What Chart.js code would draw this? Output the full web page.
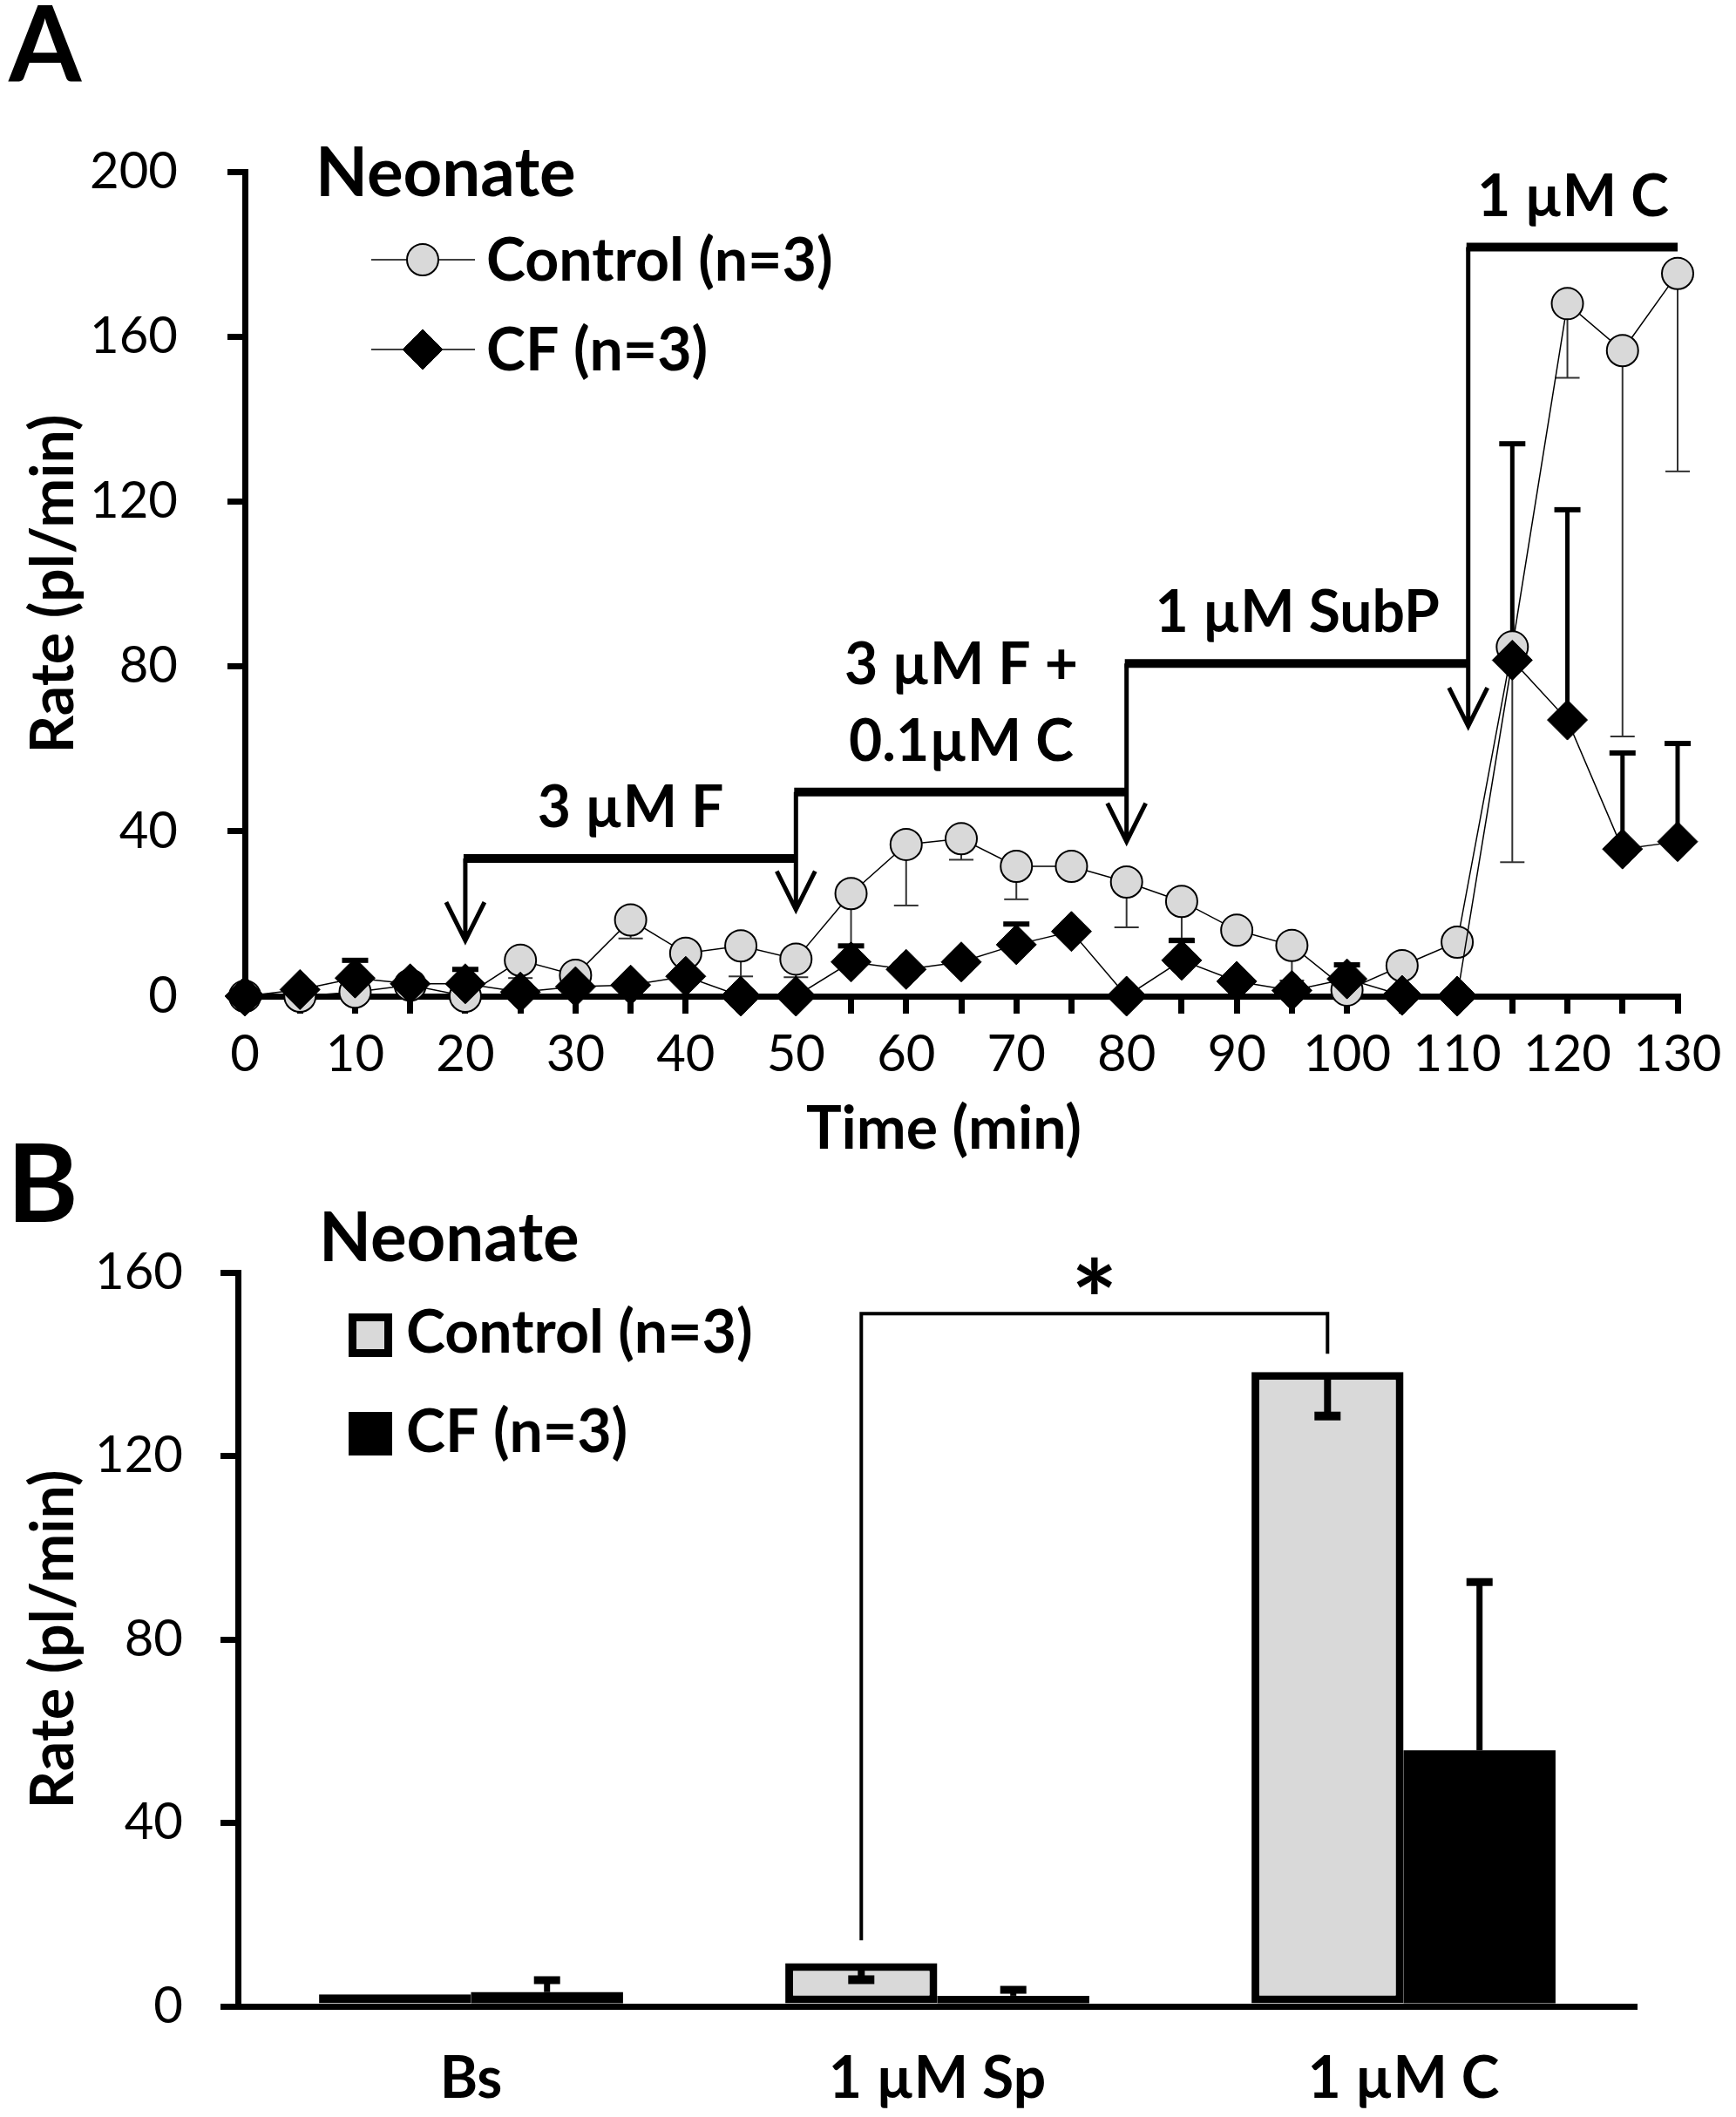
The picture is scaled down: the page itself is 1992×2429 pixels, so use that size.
<!DOCTYPE html>
<html lang="en">
<head>
<meta charset="UTF-8" />
<title>Neonate secretion rate</title>
<script src="https://cdn.jsdelivr.net/npm/chart.js"></script>
<style>
  html, body { margin: 0; padding: 0; background: #fff; }
  #wrap { position: relative; width: 1992px; height: 2429px; }
  #panelA { position: absolute; left: 0; top: 0; }
  #panelB { position: absolute; left: 0; top: 1300px; }
</style>
</head>
<body>
<div id="wrap">
  <canvas id="panelA" width="1992" height="1360"></canvas>
  <canvas id="panelB" width="1992" height="1129"></canvas>
</div>
<script>
// ---- Panel A: time course ----
const timeMin = [0, 5, 10, 15, 20, 25, 30, 35, 40, 45, 50, 55, 60, 65, 70, 75, 80, 85, 90, 95, 100, 105, 110, 115, 120, 125, 130];
const controlMean = [0, 0, 1, 2.7, 0, 8.7, 5.1, 18.5, 10.4, 12.2, 9.0, 24.9, 36.8, 38.2, 31.5, 31.5, 27.7, 23.0, 16.0, 12.3, 1.5, 7.4, 13.1, 84.7, 168, 156.6, 175.3];
const controlErr = [0, 0, 0, 0, 0, 4.3, 0, 4.5, 0, 7.4, 4.4, 12.7, 14.8, 5.1, 8, 0, 11, 9, 0, 8.5, 0, 0, 0, 52.2, 18, 93.6, 48];
const cfMean = [0, 1.6, 4.4, 3, 3, 1, 2.3, 2.7, 4.8, 0, 0, 8.3, 6.5, 8.3, 12.5, 15.7, 0, 8.7, 3.6, 1.4, 4.2, 0.2, 0, 81.5, 67, 35.7, 37.5];
const cfErr = [0, 0, 4.3, 1, 3.5, 0, 0, 1, 0, 0, 0, 3.9, 0, 0, 5, 0, 0, 4.8, 0, 0, 3.4, 0, 0, 52.5, 51, 23.3, 23.8];

// treatment periods (min) and the bracket level they are drawn at
const treatStart = [20, 50, 80, 111];
const treatEnd = [50, 80, 111, 130];
const treatLevel = [33.4, 49.5, 80.7, 181.7];
const arrowTip = [13.5, 21, 37.5, 65.5];
const treatLabel = [['3 µM F'], ['3 µM F +', '0.1µM C'], ['1 µM SubP'], ['1 µM C']];

// ---- Panel B: group means ----
const groups = ['Bs', '1 µM Sp', '1 µM C'];
const bControl = [2.6, 9.4, 138.3];
const bControlErr = [0, 3.6, 9.6];
const bCF = [3.1, 2.3, 55.8];
const bCFErr = [2.6, 1.3, 36.7];
const sigPair = [1, 2];
const sigLevel = 151;

const FONT = 'Lato, "Open Sans", "DejaVu Sans", sans-serif';
const GREY = '#d9d9d9';

function errBar(ctx, x, yFrom, yTo, lw, capW, capLw, color) {
  ctx.strokeStyle = color;
  ctx.lineWidth = lw;
  ctx.beginPath();
  ctx.moveTo(x, yFrom);
  ctx.lineTo(x, yTo);
  ctx.stroke();
  ctx.lineWidth = capLw;
  ctx.beginPath();
  ctx.moveTo(x - capW / 2, yTo);
  ctx.lineTo(x + capW / 2, yTo);
  ctx.stroke();
}

const errorBarsA = {
  id: 'errorBarsA',
  beforeDatasetsDraw(chart) {
    const { ctx, scales: { x, y } } = chart;
    ctx.save();
    timeMin.forEach((t, i) => {
      if (controlErr[i] > 0) {
        errBar(ctx, x.getPixelForValue(t), y.getPixelForValue(controlMean[i]),
          y.getPixelForValue(controlMean[i] - controlErr[i]), 2, 28, 2, '#333');
      }
      if (cfErr[i] > 0) {
        errBar(ctx, x.getPixelForValue(t), y.getPixelForValue(cfMean[i]),
          y.getPixelForValue(cfMean[i] + cfErr[i]), 5, 30, 6, '#000');
      }
    });
    ctx.restore();
  }
};

const treatmentsA = {
  id: 'treatmentsA',
  afterDatasetsDraw(chart) {
    const { ctx, scales: { x, y } } = chart;
    ctx.save();
    ctx.strokeStyle = '#000';
    ctx.fillStyle = '#000';
    treatStart.forEach((s, i) => {
      const x0 = x.getPixelForValue(s);
      const x1 = x.getPixelForValue(treatEnd[i]);
      const yl = y.getPixelForValue(treatLevel[i]);
      const yt = y.getPixelForValue(arrowTip[i]);
      // bar
      ctx.lineWidth = 10;
      ctx.beginPath();
      ctx.moveTo(x0 - 2, yl);
      ctx.lineTo(x1, yl);
      ctx.stroke();
      // drop line + open arrow head
      ctx.lineWidth = 5;
      ctx.beginPath();
      ctx.moveTo(x0, yl);
      ctx.lineTo(x0, yt);
      ctx.moveTo(x0 - 22, yt - 44);
      ctx.lineTo(x0, yt);
      ctx.lineTo(x0 + 22, yt - 44);
      ctx.stroke();
      // label
      ctx.font = 'bold 66px ' + FONT;
      ctx.textAlign = 'center';
      ctx.textBaseline = 'alphabetic';
      const lines = treatLabel[i];
      const cx = (x0 + x1) / 2;
      lines.forEach((ln, k) => {
        ctx.fillText(ln, cx, yl - 36 - (lines.length - 1 - k) * 88);
      });
    });
    ctx.restore();
  },
  afterDraw(chart) {
    const { ctx, chartArea } = chart;
    ctx.save();
    ctx.fillStyle = '#000';
    ctx.textBaseline = 'alphabetic';
    ctx.font = 'bold 120px ' + FONT;
    ctx.fillText('A', 10, 94);
    ctx.font = 'bold 78px ' + FONT;
    ctx.fillText('Neonate', 362, 225);
    // legend
    const ds = chart.data.datasets;
    [298, 401].forEach((ly, k) => {
      ctx.strokeStyle = '#000';
      ctx.lineWidth = 1.5;
      ctx.beginPath();
      ctx.moveTo(426, ly);
      ctx.lineTo(545, ly);
      ctx.stroke();
      ctx.fillStyle = ds[k].pointBackgroundColor;
      ctx.lineWidth = ds[k].pointBorderWidth;
      Chart.helpers.drawPoint(ctx, {
        pointStyle: ds[k].pointStyle, radius: ds[k].pointRadius,
        borderWidth: ds[k].pointBorderWidth, rotation: 0
      }, 485, ly);
    });
    ctx.font = 'bold 68px ' + FONT;
    ctx.fillStyle = '#000';
    ctx.fillText(ds[0].label, 558, 322);
    ctx.fillText(ds[1].label, 558, 425);
    // axis titles
    ctx.font = 'bold 68px ' + FONT;
    ctx.textAlign = 'center';
    ctx.fillText('Time (min)', (chartArea.left + chartArea.right) / 2 - 20, 1318);
    ctx.translate(62, (chartArea.top + chartArea.bottom) / 2);
    ctx.rotate(-Math.PI / 2);
    ctx.textBaseline = 'middle';
    ctx.fillText('Rate (pl/min)', 0, 0);
    ctx.restore();
  }
};

new Chart(document.getElementById('panelA'), {
  type: 'line',
  data: {
    datasets: [
      {
        label: 'Control (n=3)',
        data: timeMin.map((t, i) => ({ x: t, y: controlMean[i] })),
        borderColor: '#000', borderWidth: 1.5,
        pointStyle: 'circle', pointRadius: 18,
        pointBackgroundColor: GREY, pointBorderColor: '#000', pointBorderWidth: 2,
        fill: false, clip: false, order: 2
      },
      {
        label: 'CF (n=3)',
        data: timeMin.map((t, i) => ({ x: t, y: cfMean[i] })),
        borderColor: '#000', borderWidth: 1.5,
        pointStyle: 'rectRot', pointRadius: 23,
        pointBackgroundColor: '#000', pointBorderColor: '#000', pointBorderWidth: 1,
        fill: false, clip: false, order: 1
      }
    ]
  },
  options: {
    responsive: false,
    animation: false,
    layout: { padding: { top: 197, right: 67, left: 0, bottom: 0 } },
    plugins: { legend: { display: false }, tooltip: { enabled: false } },
    scales: {
      x: {
        type: 'linear', min: 0, max: 130,
        ticks: {
          stepSize: 5, autoSkip: false, maxRotation: 0, padding: 12,
          color: '#000', font: { family: FONT, size: 58 },
          callback: (v) => (v % 10 === 0 ? String(v) : '')
        },
        grid: { drawOnChartArea: false, tickLength: 20, lineWidth: 7, tickWidth: 7, color: '#000', tickColor: '#000' },
        border: { display: true, color: '#000', width: 7 },
        afterFit: (s) => { s.height = 217; }
      },
      y: {
        min: 0, max: 200,
        ticks: { stepSize: 40, padding: 57, color: '#000', font: { family: FONT, size: 58 } },
        grid: { drawOnChartArea: false, tickLength: 20, lineWidth: 7, tickWidth: 7, color: '#000', tickColor: '#000' },
        border: { display: true, color: '#000', width: 7 },
        afterFit: (s) => { s.width = 281; }
      }
    }
  },
  plugins: [errorBarsA, treatmentsA]
});

const decorB = {
  id: 'decorB',
  afterDatasetsDraw(chart) {
    const { ctx, scales: { y } } = chart;
    const mC = chart.getDatasetMeta(0).data;
    const mF = chart.getDatasetMeta(1).data;
    ctx.save();
    groups.forEach((g, i) => {
      if (bControlErr[i] > 0) {
        errBar(ctx, mC[i].x, y.getPixelForValue(bControl[i]) + 6,
          y.getPixelForValue(bControl[i] - bControlErr[i]), 8, 30, 10, '#000');
      }
      if (bCFErr[i] > 0) {
        errBar(ctx, mF[i].x, y.getPixelForValue(bCF[i]),
          y.getPixelForValue(bCF[i] + bCFErr[i]), 7, 30, 9, '#000');
      }
    });
    // significance bracket
    const xa = mC[sigPair[0]].x, xb = mC[sigPair[1]].x;
    const yl = y.getPixelForValue(sigLevel);
    ctx.lineWidth = 4;
    ctx.strokeStyle = '#000';
    ctx.beginPath();
    ctx.moveTo(xa, y.getPixelForValue(bControl[sigPair[0]] + 5));
    ctx.lineTo(xa, yl);
    ctx.lineTo(xb, yl);
    ctx.lineTo(xb, y.getPixelForValue(bControl[sigPair[1]] + 4));
    ctx.stroke();
    ctx.fillStyle = '#000';
    ctx.font = 'bold 125px ' + FONT;
    ctx.textAlign = 'center';
    ctx.textBaseline = 'alphabetic';
    ctx.fillText('*', (xa + xb) / 2, yl + 30);
    ctx.restore();
  },
  afterDraw(chart) {
    const { ctx, chartArea } = chart;
    const ds = chart.data.datasets;
    ctx.save();
    ctx.fillStyle = '#000';
    ctx.textBaseline = 'alphabetic';
    ctx.font = 'bold 124px ' + FONT;
    ctx.fillText('B', 8, 102);
    ctx.font = 'bold 78px ' + FONT;
    ctx.fillText('Neonate', 366, 147);
    // legend squares
    [[207, 0], [320, 1]].forEach(([top, k]) => {
      ctx.fillStyle = '#000';
      ctx.fillRect(400, top, 50, 50);
      if (k === 0) {
        ctx.fillStyle = ds[0].backgroundColor;
        ctx.fillRect(409, top + 9, 32, 32);
      }
    });
    ctx.fillStyle = '#000';
    ctx.font = 'bold 68px ' + FONT;
    ctx.fillText(ds[0].label, 466, 252);
    ctx.fillText(ds[1].label, 466, 366);
    ctx.font = 'bold 68px ' + FONT;
    ctx.textAlign = 'center';
    ctx.translate(62, (chartArea.top + chartArea.bottom) / 2);
    ctx.rotate(-Math.PI / 2);
    ctx.textBaseline = 'middle';
    ctx.fillText('Rate (pl/min)', 0, 0);
    ctx.restore();
  }
};

new Chart(document.getElementById('panelB'), {
  type: 'bar',
  data: {
    labels: groups,
    datasets: [
      {
        label: 'Control (n=3)', data: bControl,
        backgroundColor: GREY, borderColor: '#000', borderWidth: 9, borderSkipped: false,
        categoryPercentage: 0.652, barPercentage: 1
      },
      {
        label: 'CF (n=3)', data: bCF,
        backgroundColor: '#000', borderColor: '#000', borderWidth: 0,
        categoryPercentage: 0.652, barPercentage: 1
      }
    ]
  },
  options: {
    responsive: false,
    animation: false,
    layout: { padding: { top: 160, right: 114, left: 0, bottom: 0 } },
    plugins: { legend: { display: false }, tooltip: { enabled: false } },
    scales: {
      x: {
        ticks: { padding: 36, color: '#000', font: { family: FONT, size: 66, weight: 'bold' } },
        grid: { display: false },
        border: { display: true, color: '#000', width: 7 },
        afterFit: (s) => { s.height = 127; }
      },
      y: {
        min: 0, max: 160,
        ticks: { stepSize: 40, padding: 43, color: '#000', font: { family: FONT, size: 58 } },
        grid: { drawOnChartArea: false, tickLength: 20, lineWidth: 7, tickWidth: 7, color: '#000', tickColor: '#000' },
        border: { display: true, color: '#000', width: 7 },
        afterFit: (s) => { s.width = 273; }
      }
    }
  },
  plugins: [decorB]
});
</script>
</body>
</html>
